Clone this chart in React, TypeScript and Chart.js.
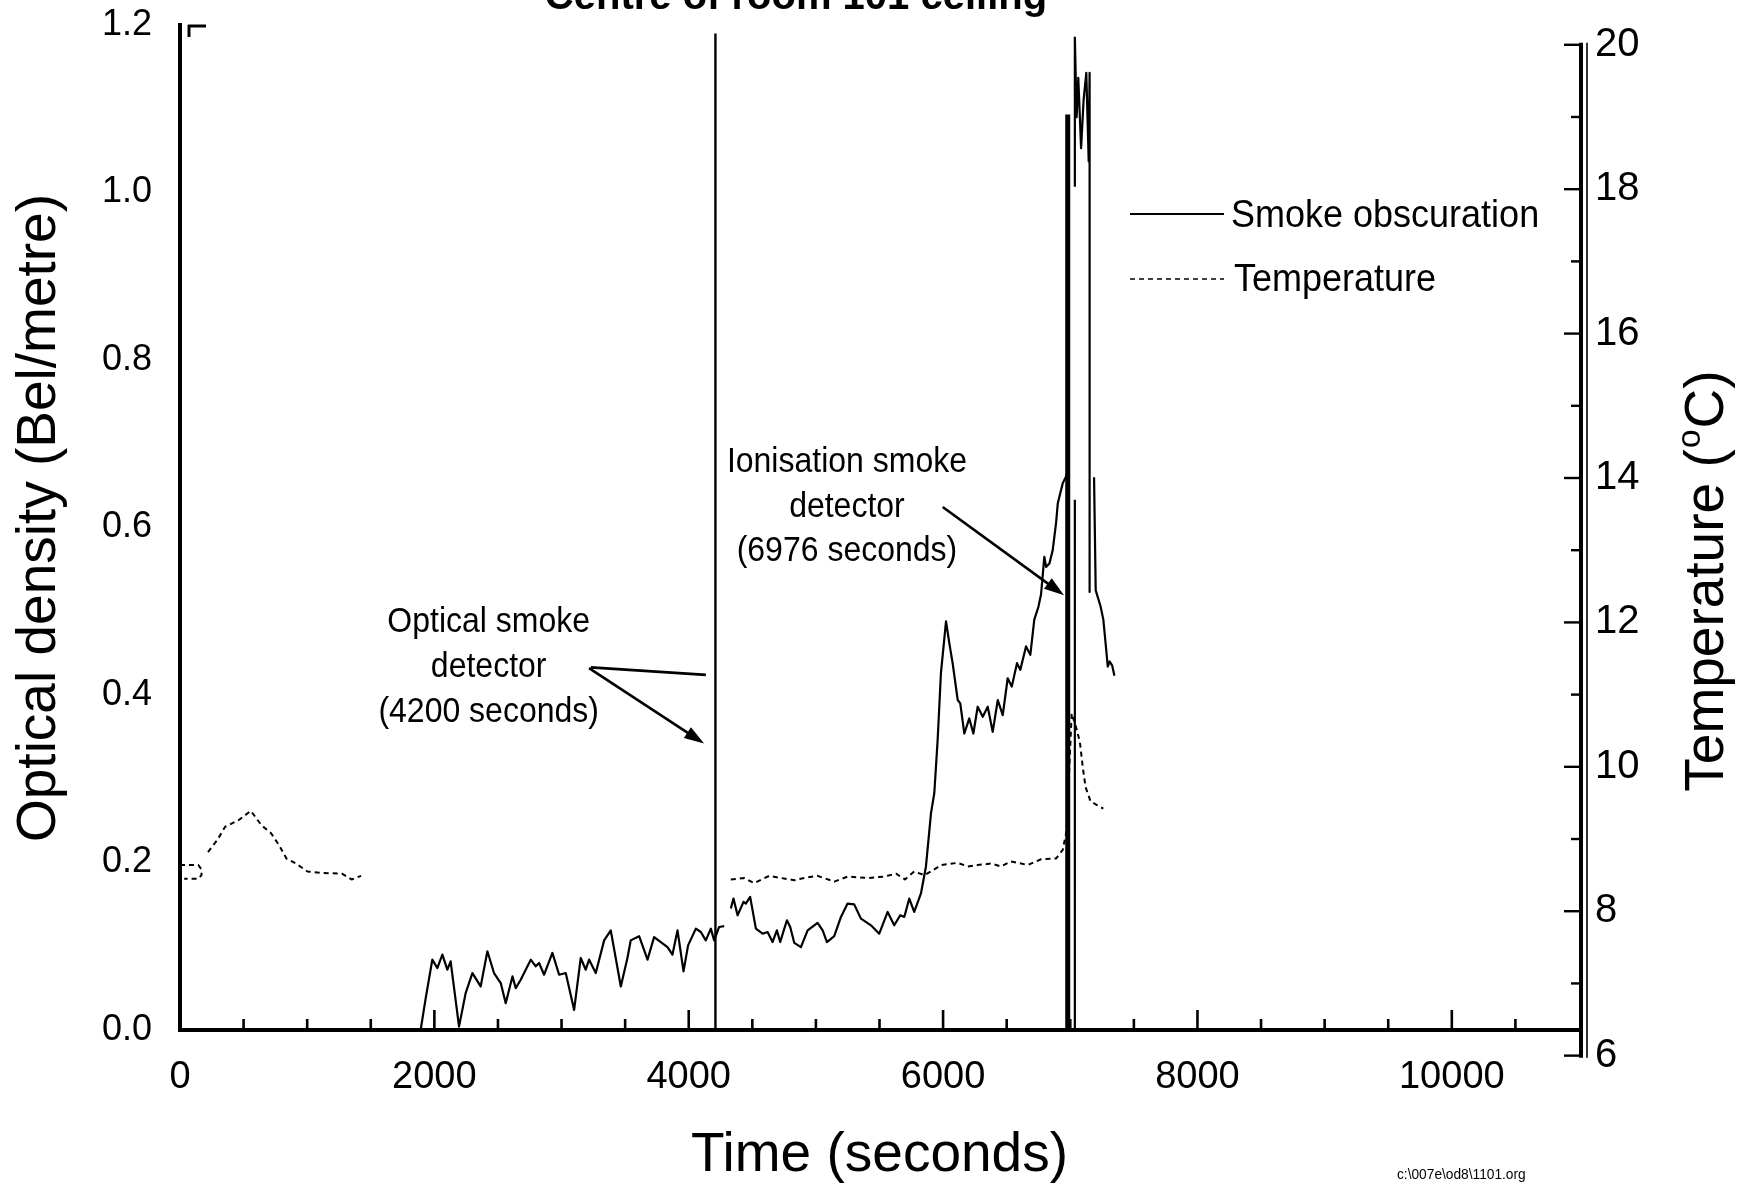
import React, { useEffect, useRef } from "react";
import { Chart, registerables } from "chart.js";

Chart.register(...registerables);

const FONT = "'Liberation Sans', Arial, Helvetica, sans-serif";

// ---------------- axis values ----------------
const timeTickLabels = [0, 2000, 4000, 6000, 8000, 10000];
const timeMinorStep = 500;
const timeMin = 0;
const timeMax = 11000;
const densityTicks = [0, 0.2, 0.4, 0.6, 0.8, 1.0, 1.2];
const densityMin = 0;
const densityMax = 1.2;
const temperatureTicks = [6, 8, 10, 12, 14, 16, 18, 20];
const temperatureMinorStep = 1;
const temperatureAxisMin = 6.355;
const temperatureAxisMax = 20.274;

// ---------------- smoke obscuration (Bel/metre) ----------------
const smokeTimeA = [
  1827, 1892, 1932, 1984, 2023, 2063, 2102, 2128, 2194, 2246,
  2299, 2364, 2417, 2469, 2522, 2561, 2614, 2640, 2679, 2758,
  2797, 2823, 2863, 2928, 2981, 3033, 3099, 3151, 3190, 3217,
  3269, 3335, 3387, 3466, 3518, 3544, 3610, 3676, 3728, 3833,
  3872, 3912, 3959, 3995, 4056, 4095, 4134, 4174, 4200, 4239,
  4279,
];
const smokeValueA = [
  0.0, 0.0, 0.038, 0.084, 0.074, 0.09, 0.072, 0.082, 0.004, 0.044,
  0.068, 0.052, 0.094, 0.068, 0.056, 0.032, 0.064, 0.05, 0.06, 0.084,
  0.076, 0.08, 0.066, 0.092, 0.066, 0.068, 0.024, 0.086, 0.072, 0.084,
  0.068, 0.107, 0.119, 0.052, 0.086, 0.107, 0.112, 0.084, 0.111, 0.099,
  0.09, 0.119, 0.07, 0.101, 0.121, 0.117, 0.107, 0.121, 0.107, 0.123,
  0.124,
];
const smokeTimeB = [
  4331, 4352, 4384, 4431, 4449, 4483, 4528, 4581, 4620, 4659,
  4693, 4719, 4772, 4798, 4830, 4882, 4935, 5013, 5053, 5087,
  5144, 5197, 5249, 5301, 5354, 5433, 5498, 5564, 5616, 5663,
  5695, 5734, 5773, 5826, 5865, 5905, 5931, 5957, 5983, 6023,
  6049, 6075, 6115, 6135, 6167, 6206, 6238, 6272, 6312, 6351,
  6390, 6430, 6469, 6508, 6540, 6581, 6607, 6652, 6686, 6717,
  6749, 6770, 6796, 6810, 6836, 6862, 6888, 6902, 6941, 6967,
  6980, 7000, 7036, 7036, 7036, 7036, 7036, 7050, 7063, 7085,
  7105, 7126, 7145, 7152, 7152, 7170, 7187, 7200, 7238, 7260,
  7275, 7295, 7310, 7330, 7347,
];
const smokeValueB = [
  0.145, 0.157, 0.137, 0.153, 0.151, 0.159, 0.121, 0.115, 0.117, 0.105,
  0.119, 0.105, 0.131, 0.123, 0.104, 0.099, 0.119, 0.128, 0.119, 0.105,
  0.112, 0.135, 0.151, 0.15, 0.133, 0.125, 0.115, 0.141, 0.125, 0.137,
  0.135, 0.157, 0.141, 0.163, 0.195, 0.259, 0.283, 0.346, 0.426, 0.488,
  0.462, 0.438, 0.394, 0.39, 0.354, 0.372, 0.354, 0.386, 0.374, 0.386,
  0.356, 0.394, 0.376, 0.42, 0.41, 0.438, 0.43, 0.458, 0.448, 0.49,
  0.505, 0.52, 0.565, 0.553, 0.557, 0.573, 0.605, 0.629, 0.653, 0.661,
  0.668, null, 0.0, 0.633, null, 1.007, 1.185, 1.09, 1.137, 1.053,
  1.111, 1.143, 1.037, 1.143, 0.523, null, 0.66, 0.525, 0.506, 0.49,
  0.466, 0.434, 0.44, 0.435, 0.423,
];

// ---------------- temperature (°C) ----------------
const tempTimeA = [
  0, 144, 169, 169, 144, 33, 100, 220, 295, 355,
  460, 557, 641, 716, 777, 837, 912, 1002, 1123, 1274,
  1349, 1424,
];
const tempValueA = [
  8.64, 8.64, 8.58, 8.5, 8.45, 8.45, null, 8.82, 8.99, 9.17,
  9.26, 9.39, 9.19, 9.08, 8.92, 8.73, 8.66, 8.55, 8.53, 8.52,
  8.44, 8.49,
];
const tempTimeB = [
  4331, 4436, 4515, 4633, 4725, 4830, 4908, 5013, 5144, 5249,
  5407, 5537, 5630, 5700, 5773, 5852, 5931, 5983, 6115, 6194,
  6272, 6377, 6456, 6534, 6666, 6770, 6888, 6941, 6967, 6975,
  7011, 7045, 7075, 7098, 7120, 7160, 7210, 7260,
];
const tempValueB = [
  8.44, 8.46, 8.39, 8.49, 8.46, 8.43, 8.46, 8.49, 8.41, 8.48,
  8.46, 8.48, 8.52, 8.44, 8.55, 8.5, 8.58, 8.64, 8.67, 8.62,
  8.64, 8.66, 8.62, 8.69, 8.64, 8.72, 8.73, 8.85, 9.08, 9.26,
  10.74, 10.55, 10.35, 10.0, 9.72, 9.52, 9.47, 9.42,
];

// ---------------- detector activation markers ----------------
const opticalDetectorTime = 4210;
const opticalMarkerTop = 1.19;
const ionisationDetectorTime = 6980;
const ionisationMarkerTop = 1.093;

// ---------------- annotation text ----------------
const chartTitle = "Centre of room 101 ceiling";
const opticalNoteLines = ["Optical smoke", "detector", "(4200 seconds)"];
const ionisationNoteLines = ["Ionisation smoke", "detector", "(6976 seconds)"];
const footnote = "c:\\007e\\od8\\1101.org";

// annotation anchors in data space (time, density)
const notes = {
  optical: { at: [2427, 0.4865], arrows: [[3216, 0.432, 4121, 0.342, true], [3230, 0.433, 4135, 0.424, false]] },
  ionisation: { at: [5244, 0.678], arrows: [[5997, 0.6245, 6951, 0.519, true]] },
};

const pts = (xs: number[], ys: (number | null)[]) => xs.map((x, i) => ({ x, y: ys[i] }));

function drawText(ctx, str, x, y, size, o: any = {}) {
  const { weight = "normal", align = "left", baseline = "middle", rotate = 0, sx = 1, sy = 1 } = o;
  ctx.save();
  ctx.translate(x, y);
  if (rotate) ctx.rotate(rotate);
  ctx.scale(sx, sy);
  ctx.font = `${weight} ${size}px ${FONT}`;
  ctx.textAlign = align;
  ctx.textBaseline = baseline;
  ctx.fillStyle = "#000";
  ctx.fillText(str, 0, 0);
  ctx.restore();
}

function seg(ctx, x1, y1, x2, y2, w) {
  ctx.lineWidth = w;
  ctx.beginPath();
  ctx.moveTo(x1, y1);
  ctx.lineTo(x2, y2);
  ctx.stroke();
}

function arrow(ctx, x1, y1, x2, y2, head) {
  const a = Math.atan2(y2 - y1, x2 - x1);
  const L = head ? 20 : 0;
  seg(ctx, x1, y1, x2 - Math.cos(a) * L * 0.7, y2 - Math.sin(a) * L * 0.7, 2.6);
  if (!head) return;
  const hw = 6.5;
  ctx.beginPath();
  ctx.moveTo(x2, y2);
  ctx.lineTo(x2 - L * Math.cos(a) + hw * Math.sin(a), y2 - L * Math.sin(a) - hw * Math.cos(a));
  ctx.lineTo(x2 - L * Math.cos(a) - hw * Math.sin(a), y2 - L * Math.sin(a) + hw * Math.cos(a));
  ctx.closePath();
  ctx.fill();
}

const overlayPlugin = {
  id: "overlay",
  afterDraw(chart) {
    const { ctx, chartArea, scales } = chart;
    const xs = scales.x;
    const ys = scales.y;
    const ts = scales.y2;
    ctx.save();
    ctx.strokeStyle = "#000";
    ctx.fillStyle = "#000";
    ctx.lineCap = "butt";

    // inward time ticks
    for (let t = timeMin + timeMinorStep; t < timeMax; t += timeMinorStep) {
      const px = xs.getPixelForValue(t);
      const len = timeTickLabels.includes(t) ? 20 : 11;
      seg(ctx, px, chartArea.bottom, px, chartArea.bottom - len, 2.6);
    }

    // top-left corner stub
    seg(ctx, chartArea.left + 8, chartArea.top + 1, chartArea.left + 26, chartArea.top + 1, 3);
    seg(ctx, chartArea.left + 9, chartArea.top, chartArea.left + 9, chartArea.top + 12, 3);

    // right temperature axis (own extent) and inward ticks
    const axisX = chartArea.right + 2;
    const yTop = ts.getPixelForValue(temperatureTicks[temperatureTicks.length - 1]);
    const yBot = ts.getPixelForValue(temperatureTicks[0]);
    seg(ctx, axisX, yTop - 2, axisX, yBot + 2, 4);
    seg(ctx, axisX + 6, yTop - 2, axisX + 6, yBot + 2, 1.6);
    for (let T = temperatureTicks[0]; T <= temperatureTicks[temperatureTicks.length - 1]; T += temperatureMinorStep) {
      const py = ts.getPixelForValue(T);
      const len = temperatureTicks.includes(T) ? 17 : 10;
      seg(ctx, axisX, py, axisX - len, py, 2.4);
    }

    // annotations
    const drawNote = (note, lines) => {
      const cx = xs.getPixelForValue(note.at[0]);
      const cy = ys.getPixelForValue(note.at[1]);
      lines.forEach((s, i) => drawText(ctx, s, cx, cy + i * 44.8, 32, { align: "center", sy: 1.1 }));
      note.arrows.forEach(([t1, v1, t2, v2, head]) =>
        arrow(ctx, xs.getPixelForValue(t1), ys.getPixelForValue(v1), xs.getPixelForValue(t2), ys.getPixelForValue(v2), head)
      );
    };
    drawNote(notes.optical, opticalNoteLines);
    drawNote(notes.ionisation, ionisationNoteLines);

    // legend
    const lx0 = 1130;
    const lx1 = 1224;
    ctx.setLineDash([]);
    seg(ctx, lx0, 214, lx1, 214, 2);
    drawText(ctx, "Smoke obscuration", 1231, 216, 36, { sy: 1.1 });
    ctx.setLineDash([5, 4]);
    seg(ctx, lx0, 279, lx1, 279, 1.6);
    ctx.setLineDash([]);
    drawText(ctx, "Temperature", 1234, 280, 36, { sy: 1.1 });

    // left axis title
    drawText(ctx, "Optical density (Bel/metre)", 40, 518, 55, { align: "center", rotate: -Math.PI / 2 });

    // right axis title with superscript o
    ctx.save();
    ctx.translate(1708, 581);
    ctx.rotate(-Math.PI / 2);
    ctx.textBaseline = "middle";
    ctx.textAlign = "left";
    ctx.fillStyle = "#000";
    const big = `55px ${FONT}`;
    const small = `34px ${FONT}`;
    ctx.font = big;
    const w1 = ctx.measureText("Temperature (").width;
    const w3 = ctx.measureText("C)").width;
    ctx.font = small;
    const w2 = ctx.measureText("o").width;
    const x0 = -(w1 + w2 + w3 + 2) / 2;
    ctx.font = big;
    ctx.fillText("Temperature (", x0, 0);
    ctx.font = small;
    ctx.fillText("o", x0 + w1 + 1, -17);
    ctx.font = big;
    ctx.fillText("C)", x0 + w1 + w2 + 2, 0);
    ctx.restore();

    // chart title (cut off at the top edge) and footnote
    drawText(ctx, chartTitle, 796, 9, 40, { weight: "bold", align: "center", baseline: "alphabetic" });
    drawText(ctx, footnote, 1397, 1175, 14, { sx: 0.98 });

    ctx.restore();
  },
};

const lineStyle = {
  pointRadius: 0,
  pointHoverRadius: 0,
  borderColor: "#000",
  backgroundColor: "#000",
  fill: false,
  tension: 0,
  spanGaps: false,
  borderJoinStyle: "round" as const,
};

export default function App() {
  const ref = useRef<HTMLCanvasElement>(null);

  useEffect(() => {
    const canvas = ref.current;
    if (!canvas) return;
    Chart.defaults.font.family = FONT;
    Chart.defaults.color = "#000";
    const chart = new Chart(canvas, {
      type: "line",
      data: {
        datasets: [
          { ...lineStyle, label: "Temperature", data: pts(tempTimeA, tempValueA), yAxisID: "y2", borderWidth: 2, borderDash: [5, 4] },
          { ...lineStyle, label: "Temperature (cont.)", data: pts(tempTimeB, tempValueB), yAxisID: "y2", borderWidth: 2, borderDash: [5, 4] },
          { ...lineStyle, label: "Smoke obscuration", data: pts(smokeTimeA, smokeValueA), yAxisID: "y", borderWidth: 2.2 },
          { ...lineStyle, label: "Smoke obscuration (cont.)", data: pts(smokeTimeB, smokeValueB), yAxisID: "y", borderWidth: 2.2 },
          {
            ...lineStyle,
            label: "Optical smoke detector",
            data: [{ x: opticalDetectorTime, y: 0 }, { x: opticalDetectorTime, y: opticalMarkerTop }],
            yAxisID: "y",
            borderWidth: 2.4,
          },
          {
            ...lineStyle,
            label: "Ionisation smoke detector",
            data: [{ x: ionisationDetectorTime, y: 0 }, { x: ionisationDetectorTime, y: ionisationMarkerTop }],
            yAxisID: "y",
            borderWidth: 5,
          },
        ],
      },
      options: {
        responsive: false,
        animation: false,
        devicePixelRatio: 1,
        events: [],
        layout: { padding: { top: 25, left: 0, right: 0, bottom: 0 } },
        plugins: { legend: { display: false }, tooltip: { enabled: false }, title: { display: false } },
        scales: {
          x: {
            type: "linear",
            min: timeMin,
            max: timeMax,
            afterBuildTicks: (s) => {
              s.ticks = timeTickLabels.map((value) => ({ value }));
            },
            afterFit: (s) => {
              s.height = 162;
              s.paddingLeft = 0;
              s.paddingRight = 0;
            },
            grid: { display: true, drawOnChartArea: false, drawTicks: false },
            border: { display: true, color: "#000", width: 4 },
            ticks: {
              color: "#000",
              font: { family: FONT, size: 38 },
              padding: 25,
              maxRotation: 0,
              autoSkip: false,
              callback: (v) => String(v),
            },
            title: {
              display: true,
              text: "Time (seconds)",
              color: "#000",
              font: { family: FONT, size: 55 },
              padding: { top: 0, bottom: 3 },
            },
          },
          y: {
            type: "linear",
            position: "left",
            min: densityMin,
            max: densityMax,
            afterBuildTicks: (s) => {
              s.ticks = densityTicks.map((value) => ({ value }));
            },
            afterFit: (s) => {
              s.width = 180;
              s.paddingTop = 0;
              s.paddingBottom = 0;
            },
            grid: { display: true, drawOnChartArea: false, drawTicks: false },
            border: { display: true, color: "#000", width: 4 },
            ticks: {
              color: "#000",
              font: { family: FONT, size: 36 },
              padding: 28,
              autoSkip: false,
              callback: (v) => Number(v).toFixed(1),
            },
          },
          y2: {
            type: "linear",
            position: "right",
            min: temperatureAxisMin,
            max: temperatureAxisMax,
            afterBuildTicks: (s) => {
              s.ticks = temperatureTicks.map((value) => ({ value }));
            },
            afterFit: (s) => {
              s.width = 180;
              s.paddingTop = 0;
              s.paddingBottom = 0;
            },
            grid: { display: false, drawOnChartArea: false, drawTicks: false },
            border: { display: false },
            ticks: {
              color: "#000",
              font: { family: FONT, size: 40 },
              padding: 16,
              autoSkip: false,
              callback: (v) => String(v),
            },
          },
        },
      },
      plugins: [overlayPlugin],
    });
    return () => chart.destroy();
  }, []);

  return (
    <div style={{ position: "absolute", left: 0, top: 0, width: 1759, height: 1192, background: "#fff" }}>
      <canvas ref={ref} width={1759} height={1192} style={{ display: "block", width: 1759, height: 1192 }} />
    </div>
  );
}
